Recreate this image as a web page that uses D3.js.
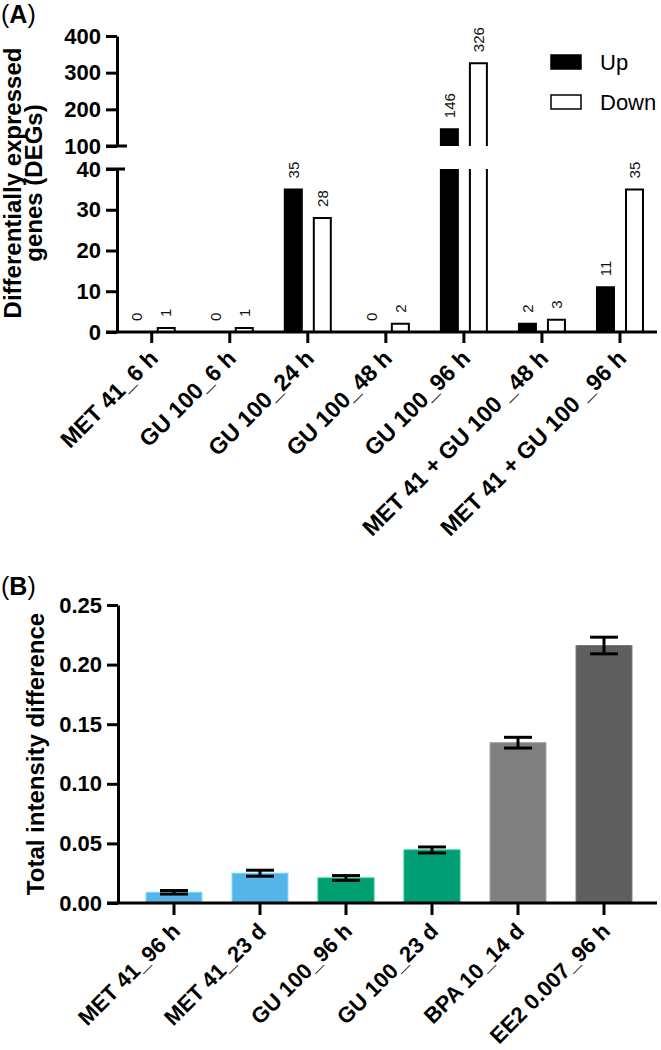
<!DOCTYPE html>
<html>
<head>
<meta charset="utf-8">
<script src="https://cdn.jsdelivr.net/npm/d3@7"></script>
<style>
  body { margin: 0; background: #fff; }
  svg { display: block; font-family: Arial, "Liberation Sans", sans-serif; }
</style>
</head>
<body>
<div id="chart"></div>
<script>
// ---- Panel A data: differentially expressed genes
const catsA = ['MET 41_6 h', 'GU 100_6 h', 'GU 100_24 h', 'GU 100_48 h', 'GU 100_96 h',
               'MET 41 + GU 100 _48 h', 'MET 41 + GU 100 _96 h'];
const seriesA = ['Up', 'Down'];
const upA = [0, 0, 35, 0, 146, 2, 11];
const downA = [1, 1, 28, 2, 326, 3, 35];
const ticksLowA = [0, 10, 20, 30, 40];
const ticksUpA = [100, 200, 300, 400];

// ---- Panel B data: total intensity difference
const catsB = ['MET 41_96 h', 'MET 41_23 d', 'GU 100_96 h', 'GU 100_23 d', 'BPA 10_14 d', 'EE2 0.007_96 h'];
const valsB = [0.009, 0.025, 0.021, 0.0445, 0.1345, 0.216];
const errsB = [0.0015, 0.0025, 0.002, 0.0025, 0.0045, 0.007];
const colorsB = ['#56b4e9', '#56b4e9', '#009e73', '#009e73', '#808080', '#5f5f5f'];
const ticksB = [0, 0.05, 0.10, 0.15, 0.20, 0.25];

const W = 661, H = 1050;
const svg = d3.select('#chart').append('svg').attr('width', W).attr('height', H);

const AXW = 3;       // axis stroke width
const TICK = 11;     // tick length

function styleAxis(g, fontSize) {
    g.selectAll('.domain').attr('stroke', '#000').attr('stroke-width', AXW);
    g.selectAll('.tick line').attr('stroke', '#000').attr('stroke-width', AXW);
    g.selectAll('.tick text').attr('fill', '#000')
        .attr('font-size', fontSize).attr('font-weight', 'bold')
        .attr('font-family', 'Arial, "Liberation Sans", sans-serif');
}

// ================= Panel A =================
const axisXA = 117;
const baseA = 332;
const yLow = d3.scaleLinear().domain([0, 40]).range([baseA, 169]);
const yUp = d3.scaleLinear().domain([100, 400]).range([146, 36]);
const xA = d3.scaleBand().domain(catsA).range([112.7, 659]);
const subA = d3.scaleBand().domain(seriesA).range([-24, 24]).paddingInner(0.345);

svg.append('text').attr('x', 1).attr('y', 23).attr('font-size', 25)
    .html('(<tspan font-weight="bold">A</tspan>)');

// y title
const titleA = svg.append('text')
    .attr('transform', `translate(21,183) rotate(-90)`)
    .attr('text-anchor', 'middle').attr('font-size', 24).attr('font-weight', 'bold');
titleA.append('tspan').attr('x', 0).attr('y', 0).text('Differentially expressed');
titleA.append('tspan').attr('x', 0).attr('y', 21).text('genes (DEGs)');

// bars
const dataA = [];
catsA.forEach((c, i) => {
    dataA.push({cat: c, s: 'Up', v: upA[i]});
    dataA.push({cat: c, s: 'Down', v: downA[i]});
});

const barsA = svg.append('g');
dataA.forEach(d => {
    const cx = xA(d.cat) + xA.bandwidth() / 2;
    const x0 = cx + subA(d.s) + 1, x1 = x0 + subA.bandwidth() - 2;
    const fill = d.s === 'Up' ? '#000' : '#fff';
    // lower segment
    const lowTop = yLow(Math.min(d.v, 40));
    barsA.append('rect').attr('x', x0).attr('y', lowTop)
        .attr('width', x1 - x0).attr('height', baseA - lowTop).attr('fill', fill);
    const closed = d.v <= 40;
    barsA.append('path')
        .attr('d', closed
            ? `M${x0},${baseA}V${lowTop}H${x1}V${baseA}`
            : `M${x0},${baseA}V${lowTop}M${x1},${lowTop}V${baseA}`)
        .attr('fill', 'none').attr('stroke', '#000').attr('stroke-width', 2);
    let labelY = lowTop;
    if (d.v > 100) {
        const upTop = yUp(d.v), upBot = yUp(100);
        barsA.append('rect').attr('x', x0).attr('y', upTop)
            .attr('width', x1 - x0).attr('height', upBot - upTop).attr('fill', fill);
        barsA.append('path').attr('d', `M${x0},${upBot}V${upTop}H${x1}V${upBot}`)
            .attr('fill', 'none').attr('stroke', '#000').attr('stroke-width', 2);
        labelY = upTop;
    }
    svg.append('text')
        .attr('transform', `translate(${(x0 + x1) / 2},${labelY - 11}) rotate(-90)`)
        .attr('dy', '0.35em').attr('font-size', 15).attr('fill', '#111')
        .text(d.v);
});

// axes
const gLow = svg.append('g').attr('transform', `translate(${axisXA},0)`)
    .call(d3.axisLeft(yLow).tickValues(ticksLowA).tickSize(TICK).tickSizeOuter(0).tickPadding(5));
styleAxis(gLow, 22);
const gUp = svg.append('g').attr('transform', `translate(${axisXA},0)`)
    .call(d3.axisLeft(yUp).tickValues(ticksUpA).tickSize(TICK).tickSizeOuter(0).tickPadding(5));
styleAxis(gUp, 22);
// break marks across the axis
svg.append('line').attr('x1', axisXA - TICK).attr('x2', axisXA + 10)
    .attr('y1', yUp(100)).attr('y2', yUp(100)).attr('stroke', '#000').attr('stroke-width', AXW);
svg.append('line').attr('x1', axisXA - TICK).attr('x2', axisXA + 8)
    .attr('y1', yLow(40)).attr('y2', yLow(40)).attr('stroke', '#000').attr('stroke-width', AXW);

const gXA = svg.append('g').attr('transform', `translate(0,${baseA})`)
    .call(d3.axisBottom(xA).tickSize(TICK).tickSizeOuter(0));
gXA.select('.domain').remove();
styleAxis(gXA, 23);
gXA.selectAll('.tick text')
    .attr('text-anchor', 'end').attr('dy', '0.35em')
    .attr('transform', 'translate(2,22) rotate(-45)').attr('y', 0).attr('x', 0);
svg.append('line').attr('x1', axisXA - TICK).attr('x2', 657)
    .attr('y1', baseA).attr('y2', baseA).attr('stroke', '#000').attr('stroke-width', AXW);

// legend
const legA = svg.append('g');
seriesA.forEach((s, i) => {
    const ly = 55 + i * 40;
    legA.append('rect').attr('x', 551).attr('y', ly).attr('width', 30).attr('height', 14)
        .attr('fill', s === 'Up' ? '#000' : '#fff').attr('stroke', '#000').attr('stroke-width', 1.5);
    legA.append('text').attr('x', 600).attr('y', ly + 15).attr('font-size', 22).text(s);
});

// ================= Panel B =================
const axisXB = 118;
const baseB = 903;
const yB = d3.scaleLinear().domain([0, 0.25]).range([baseB, 605]);
const xB = d3.scaleBand().domain(catsB).range([131, 647]).paddingInner(0.35).paddingOuter(0.175);

svg.append('text').attr('x', 1).attr('y', 595).attr('font-size', 25)
    .html('(<tspan font-weight="bold">B</tspan>)');

svg.append('text')
    .attr('transform', `translate(44,${(yB(0) + yB(0.25)) / 2}) rotate(-90)`)
    .attr('text-anchor', 'middle').attr('font-size', 24).attr('font-weight', 'bold')
    .text('Total intensity difference');

const lighter = c => d3.color(c).brighter(0.6).formatHex();
svg.append('g').selectAll('rect').data(catsB).join('rect')
    .attr('x', d => xB(d)).attr('width', xB.bandwidth())
    .attr('y', (d, i) => yB(valsB[i])).attr('height', (d, i) => baseB - yB(valsB[i]))
    .attr('fill', (d, i) => colorsB[i])
    .attr('stroke', (d, i) => lighter(colorsB[i])).attr('stroke-width', 1);

// error bars
const gErr = svg.append('g').attr('stroke', '#000').attr('stroke-width', 3);
catsB.forEach((c, i) => {
    const cx = xB(c) + xB.bandwidth() / 2;
    const hi = yB(valsB[i] + errsB[i]), lo = yB(valsB[i] - errsB[i]);
    gErr.append('line').attr('x1', cx).attr('x2', cx).attr('y1', hi).attr('y2', lo);
    gErr.append('line').attr('x1', cx - 14).attr('x2', cx + 14).attr('y1', hi).attr('y2', hi);
    gErr.append('line').attr('x1', cx - 14).attr('x2', cx + 14).attr('y1', lo).attr('y2', lo);
});

const gYB = svg.append('g').attr('transform', `translate(${axisXB},0)`)
    .call(d3.axisLeft(yB).tickValues(ticksB).tickFormat(d3.format('.2f'))
        .tickSize(TICK).tickSizeOuter(0).tickPadding(5));
styleAxis(gYB, 22);

const gXB = svg.append('g').attr('transform', `translate(0,${baseB})`)
    .call(d3.axisBottom(xB).tickSize(TICK + 1).tickSizeOuter(0));
gXB.select('.domain').remove();
styleAxis(gXB, 22);
gXB.selectAll('.tick text')
    .attr('text-anchor', 'end').attr('dy', '0.35em')
    .attr('transform', 'translate(2,24) rotate(-45)').attr('y', 0).attr('x', 0);
svg.append('line').attr('x1', axisXB - TICK).attr('x2', 657)
    .attr('y1', baseB).attr('y2', baseB).attr('stroke', '#000').attr('stroke-width', AXW);
</script>
</body>
</html>
